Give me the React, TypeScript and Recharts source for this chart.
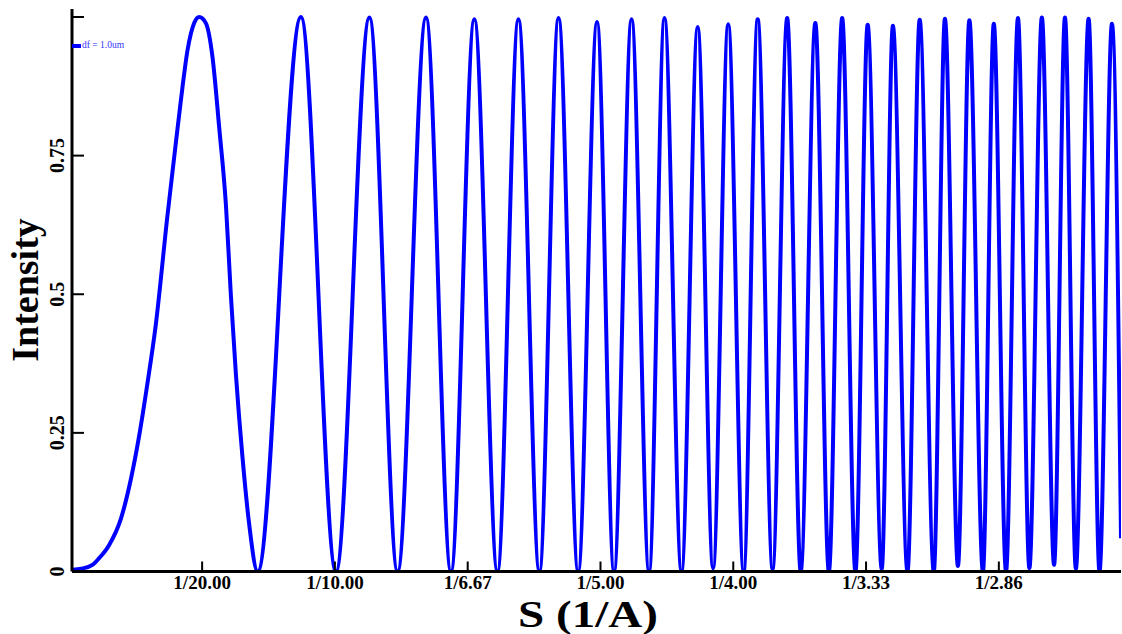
import { Label, Line, LineChart, XAxis, YAxis } from "recharts";

const SERIF = '"Liberation Serif", "Times New Roman", serif';

// S (1/A) and intensity
// first lobe, sampled densely because it is far from sinusoidal
const lobeS = [0.0012, 0.0045, 0.0087, 0.0112, 0.015, 0.0194, 0.0231, 0.0263, 0.0294, 0.0326, 0.0369, 0.0395, 0.042, 0.0445, 0.047, 0.0489, 0.0514, 0.0539, 0.0564, 0.059, 0.0608, 0.0627, 0.0652, 0.0677];
const lobeV = [0.003, 0.005, 0.012, 0.024, 0.048, 0.095, 0.165, 0.245, 0.339, 0.447, 0.64, 0.748, 0.85, 0.94, 0.989, 1.0, 0.989, 0.928, 0.802, 0.658, 0.5, 0.357, 0.206, 0.086];

// maxima after the first lobe
const peakS = [0.0872, 0.113, 0.1343, 0.1525, 0.1691, 0.1842, 0.1987, 0.2117, 0.2241, 0.2366, 0.2481, 0.2592, 0.2703, 0.2809, 0.291, 0.3006, 0.3101, 0.3202, 0.3297, 0.3389, 0.3481, 0.3572, 0.3662, 0.3749, 0.3838, 0.3926];
const peakV = [1.0, 0.999, 0.999, 0.996, 0.996, 0.998, 0.991, 0.996, 0.998, 0.982, 0.987, 0.996, 0.998, 0.989, 0.998, 0.986, 0.984, 0.995, 0.997, 0.994, 0.988, 0.998, 0.999, 0.999, 0.997, 0.988];

// minima
const troughS = [0.0709, 0.1004, 0.1236, 0.1437, 0.1612, 0.177, 0.1916, 0.2051, 0.2183, 0.2305, 0.2424, 0.2539, 0.2648, 0.2754, 0.286, 0.296, 0.3059, 0.3156, 0.3255, 0.3346, 0.344, 0.3527, 0.3615, 0.3708, 0.379, 0.3879];
const troughV = [0, 0, 0, 0, 0, 0, 0, 0, 0, 0, 0.006, 0, 0.005, 0, 0, 0, 0.005, 0, 0, 0.01, 0, 0, 0.006, 0.012, 0.005, 0];

// last sample at the right edge
const edgeS = [0.396];
const edgeV = [0.06];

const xTicks = [0.05, 0.1, 0.15, 0.2, 0.25, 0.3, 0.35];
const xTickLabels = ["1/20.00", "1/10.00", "1/6.67", "1/5.00", "1/4.00", "1/3.33", "1/2.86"];
const yTicks = [0, 0.25, 0.5, 0.75, 1];
const yTickLabels = ["0", "0.25", "0.5", "0.75", ""];

const pairs = (s: number[], v: number[]) => s.map((x, i) => ({ s: x, v: v[i] }));
const data = [
  ...pairs(lobeS, lobeV),
  ...pairs(peakS, peakV),
  ...pairs(troughS, troughV),
  ...pairs(edgeS, edgeV),
].sort((a, b) => a.s - b.s);

const BottomTick = (p: any) => {
  const i = xTicks.indexOf(p.payload.value);
  return (
    <g>
      <line x1={p.x} x2={p.x} y1={p.y} y2={p.y - 10} stroke="#000" strokeWidth={2} />
      <text x={p.x} y={p.y + 17} textAnchor="middle" fontFamily={SERIF} fontWeight="bold" fontSize={19} fill="#000">
        {xTickLabels[i]}
      </text>
    </g>
  );
};

const TopTick = (p: any) => (
  <line x1={p.x} x2={p.x} y1={p.y} y2={p.y + 12} stroke="#000" strokeWidth={2} />
);

const LeftTick = (p: any) => {
  const i = yTicks.indexOf(p.payload.value);
  const lx = p.x - 8;
  return (
    <g>
      <line x1={p.x} x2={p.x + 12} y1={p.y} y2={p.y} stroke="#000" strokeWidth={2} />
      <text
        x={lx}
        y={p.y}
        transform={`rotate(-90, ${lx}, ${p.y})`}
        textAnchor="middle"
        fontFamily={SERIF}
        fontWeight="bold"
        fontSize={20}
        fill="#000"
      >
        {yTickLabels[i]}
      </text>
    </g>
  );
};

const RightTick = (p: any) => (
  <line x1={p.x - 3} x2={p.x + 1} y1={p.y} y2={p.y} stroke="#000" strokeWidth={2} />
);

const XTitle = () => (
  <text
    x={588}
    y={627}
    textAnchor="middle"
    fontFamily={SERIF}
    fontWeight="bold"
    fontSize={37}
    textLength={140}
    lengthAdjust="spacingAndGlyphs"
    fill="#000"
  >
    S (1/A)
  </text>
);

const YTitle = () => (
  <text
    x={38}
    y={290}
    transform="rotate(-90, 38, 290)"
    textAnchor="middle"
    fontFamily={SERIF}
    fontWeight="bold"
    fontSize={38}
    fill="#000"
  >
    Intensity
  </text>
);

export default function App() {
  return (
    <div style={{ position: "absolute", left: 0, top: 0, width: 1122, height: 634, overflow: "hidden", background: "#fff" }}>
      <LineChart width={1122} height={634} data={data} margin={{ top: 9, right: 1, bottom: 0, left: 0 }}>
        <XAxis
          xAxisId="b"
          type="number"
          dataKey="s"
          domain={[0.001, 0.396]}
          allowDataOverflow
          ticks={xTicks}
          interval={0}
          height={62.5}
          axisLine={{ stroke: "#000", strokeWidth: 3 }}
          tickLine={false}
          tickSize={0}
          tickMargin={0}
          tick={BottomTick}
        >
          <Label content={XTitle} />
        </XAxis>
        <XAxis
          xAxisId="t"
          orientation="top"
          type="number"
          dataKey="s"
          domain={[0.001, 0.396]}
          allowDataOverflow
          ticks={xTicks}
          interval={0}
          height={0}
          axisLine={{ stroke: "#000", strokeWidth: 3 }}
          tickLine={false}
          tickSize={0}
          tickMargin={0}
          tick={TopTick}
        />
        <YAxis
          yAxisId="l"
          type="number"
          domain={[0, 1.0144]}
          allowDataOverflow
          ticks={yTicks}
          interval={0}
          width={72}
          axisLine={{ stroke: "#000", strokeWidth: 3 }}
          tickLine={false}
          tickSize={0}
          tickMargin={0}
          tick={LeftTick}
        >
          <Label content={YTitle} />
        </YAxis>
        <YAxis
          yAxisId="r"
          orientation="right"
          type="number"
          domain={[0, 1.0144]}
          allowDataOverflow
          ticks={yTicks}
          interval={0}
          width={0}
          axisLine={false}
          tickLine={false}
          tickSize={0}
          tickMargin={0}
          tick={RightTick}
        />
        <Line
          xAxisId="b"
          yAxisId="l"
          type="monotone"
          dataKey="v"
          stroke="#0000ff"
          strokeWidth={4}
          dot={false}
          isAnimationActive={false}
        />
      </LineChart>
      <div style={{ position: "absolute", left: 72, top: 40, display: "flex", alignItems: "center", pointerEvents: "none" }}>
        <span style={{ display: "inline-block", width: 9, height: 4, background: "#0000ff" }} />
        <span style={{ fontFamily: SERIF, fontSize: 9.5, color: "#3333ff", marginLeft: 1, lineHeight: "11px" }}>df = 1.0um</span>
      </div>
    </div>
  );
}
